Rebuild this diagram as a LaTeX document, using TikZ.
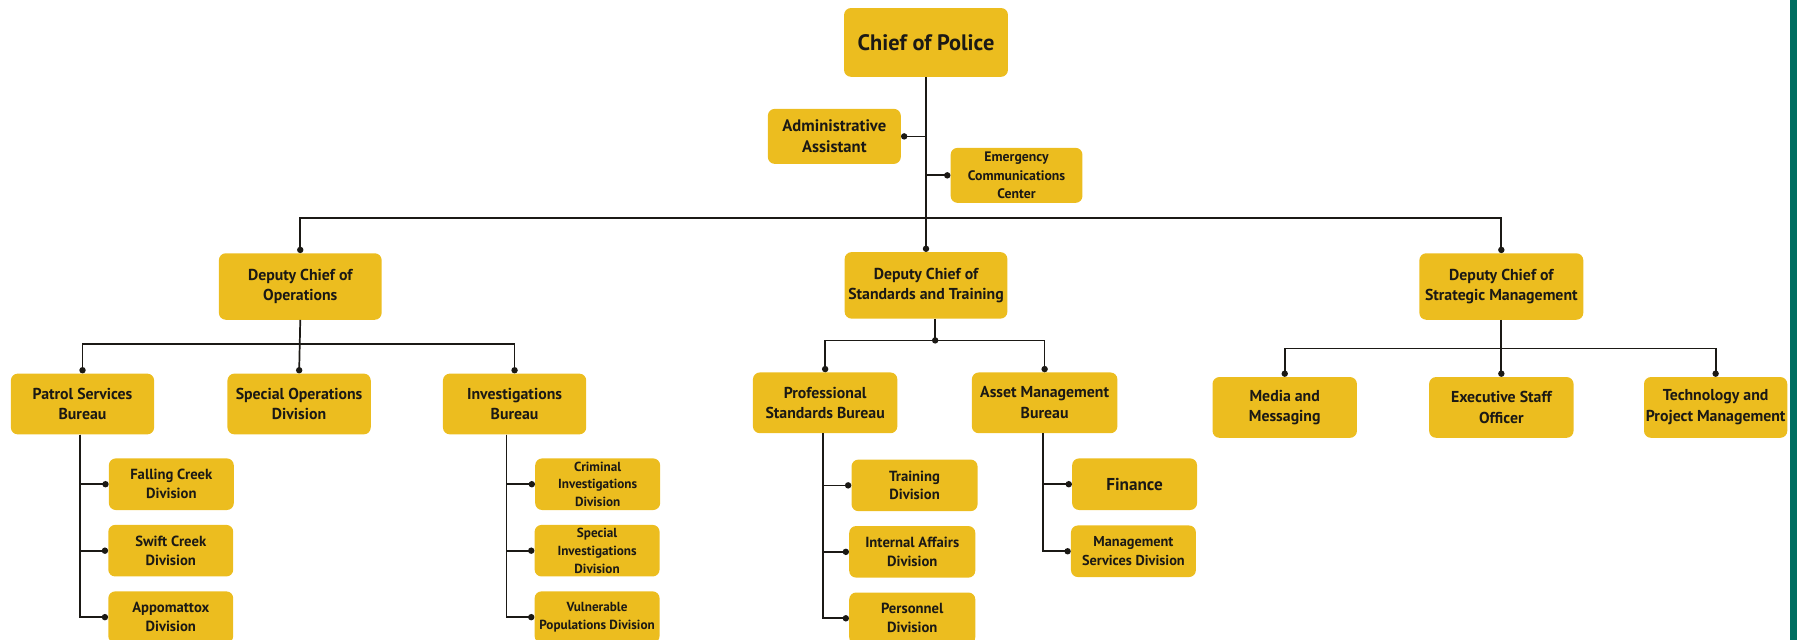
\documentclass[tikz,border=0pt]{standalone}
\usepackage{fontspec}
\setmainfont{PT Sans}
\usetikzlibrary{arrows.meta}
\definecolor{boxyellow}{HTML}{ECBD1F}
\definecolor{inkdark}{HTML}{1B1915}
\definecolor{sidebar}{HTML}{006E60}

\begin{document}
\begin{tikzpicture}[
  x=1pt, y=-1pt,
  box/.style={rectangle, fill=boxyellow, rounded corners=6pt, align=center, inner sep=0pt, text=inkdark, font=\bfseries\fontsize{13.8}{18}\selectfont, minimum width=125pt, minimum height=53pt},
  subbox/.style={box, font=\bfseries\fontsize{12.8}{16.5}\selectfont, minimum width=109pt, minimum height=45pt},
  tinybox/.style={subbox, font=\bfseries\fontsize{11.5}{15.5}\selectfont},
  link/.style={line width=1.5pt, draw=inkdark, -{Circle[length=5.5pt]}},
  plain/.style={line width=1.5pt, draw=inkdark}
]
\useasboundingbox (0,0) rectangle (1568,558);
\clip (0,0) rectangle (1568,558);

% side stripe
\fill[sidebar] (1562,0) rectangle (1568,558);

% Top of the chart
\node[box, minimum width=143pt, minimum height=60pt, font=\bfseries\fontsize{19.5}{22}\selectfont] (chief) at (808,37) {Chief of Police};
\node[box, minimum width=116pt, minimum height=48pt, font=\bfseries\fontsize{14.5}{18}\selectfont] (admin) at (728,119) {Administrative\\Assistant};
\node[tinybox, minimum width=115pt, minimum height=48pt, font=\bfseries\fontsize{12}{16}\selectfont] (ecc) at (887,153) {Emergency\\Communications\\Center};

% Deputy chiefs
\node[box, minimum width=142pt, minimum height=58pt] (dep-ops) at (262,250) {Deputy Chief of\\Operations};
\node[box, minimum width=142pt, minimum height=58pt] (dep-std) at (808,249) {Deputy Chief of\\Standards and Training};
\node[box, minimum width=143pt, minimum height=58pt] (dep-strat) at (1310,250) {Deputy Chief of\\Strategic Management};

\coordinate (bus-main) at (808,190);
\draw[link] (chief.south) -- (dep-std.north);
\draw[link] (chief.south |- admin.east) -- (admin.east);
\draw[link] (chief.south |- ecc.west) -- (ecc.west);
\draw[link] (bus-main) -| (dep-ops.north);
\draw[link] (bus-main) -| (dep-strat.north);

% Operations
\coordinate (bus-ops) at (262,300);
\node[box] (patrol) at (72,352.5) {Patrol Services\\Bureau};
\node[box] (specops) at (261,352.5) {Special Operations\\Division};
\node[box] (invest) at (449,352.5) {Investigations\\Bureau};
\draw[link] (dep-ops.south) -- (specops.north);
\draw[link] (bus-ops) -| (patrol.north);
\draw[link] (bus-ops) -| (invest.north);

\node[subbox] (falling) at (149.5,422.5) {Falling Creek\\Division};
\node[subbox] (swift) at (149,480.5) {Swift Creek\\Division};
\node[subbox] (appo) at (149,538.5) {Appomattox\\Division};
\foreach \d in {falling,swift,appo}
  \draw[link] ([xshift=-2pt]patrol.south) |- (\d.west);

\node[tinybox] (crim) at (521.5,422.5) {Criminal\\Investigations\\Division};
\node[tinybox] (specinv) at (521,480.5) {Special\\Investigations\\Division};
\node[tinybox] (vuln) at (521,538.5) {Vulnerable\\Populations Division};
\foreach \d in {crim,specinv,vuln}
  \draw[link] ([xshift=-7pt]invest.south) |- (\d.west);

% Standards and training
\coordinate (bus-std) at (816,297);
\draw[plain] ([xshift=8pt]dep-std.south) -- (bus-std);
\fill[inkdark] (bus-std) circle (2.8pt);
\node[box, minimum width=126pt] (prof) at (720,351.5) {Professional\\Standards Bureau};
\node[box, minimum width=127pt] (asset) at (911.5,351.5) {Asset Management\\Bureau};
\draw[link] (bus-std) -| (prof.north);
\draw[link] (bus-std) -| (asset.north);

\node[subbox, minimum width=110pt] (training) at (798,423.5) {Training\\Division};
\node[subbox, minimum width=110pt] (internal) at (796,481.5) {Internal Affairs\\Division};
\node[subbox, minimum width=110pt] (personnel) at (796,539.5) {Personnel\\Division};
\foreach \d in {training,internal,personnel}
  \draw[link] ([xshift=-2pt]prof.south) |- (\d.west);

\node[subbox, font=\bfseries\fontsize{15}{18}\selectfont] (finance) at (990,422.5) {Finance};
\node[subbox, font=\bfseries\fontsize{12.5}{16.5}\selectfont] (mgmt) at (989,481) {Management\\Services Division};
\foreach \d in {finance,mgmt}
  \draw[link] ([xshift=-1.5pt]asset.south) |- (\d.west);

% Strategic management
\coordinate (bus-strat) at (1310,304);
\node[box, minimum width=126pt] (media) at (1121,355.5) {Media and\\Messaging};
\node[box, minimum width=126pt] (exec) at (1310,355.5) {Executive Staff\\Officer};
\node[box] (tech) at (1497,355.5) {Technology and\\Project Management};
\draw[link] (dep-strat.south) -- (exec.north);
\draw[link] (bus-strat) -| (media.north);
\draw[link] (bus-strat) -| (tech.north);

\end{tikzpicture}
\end{document}
